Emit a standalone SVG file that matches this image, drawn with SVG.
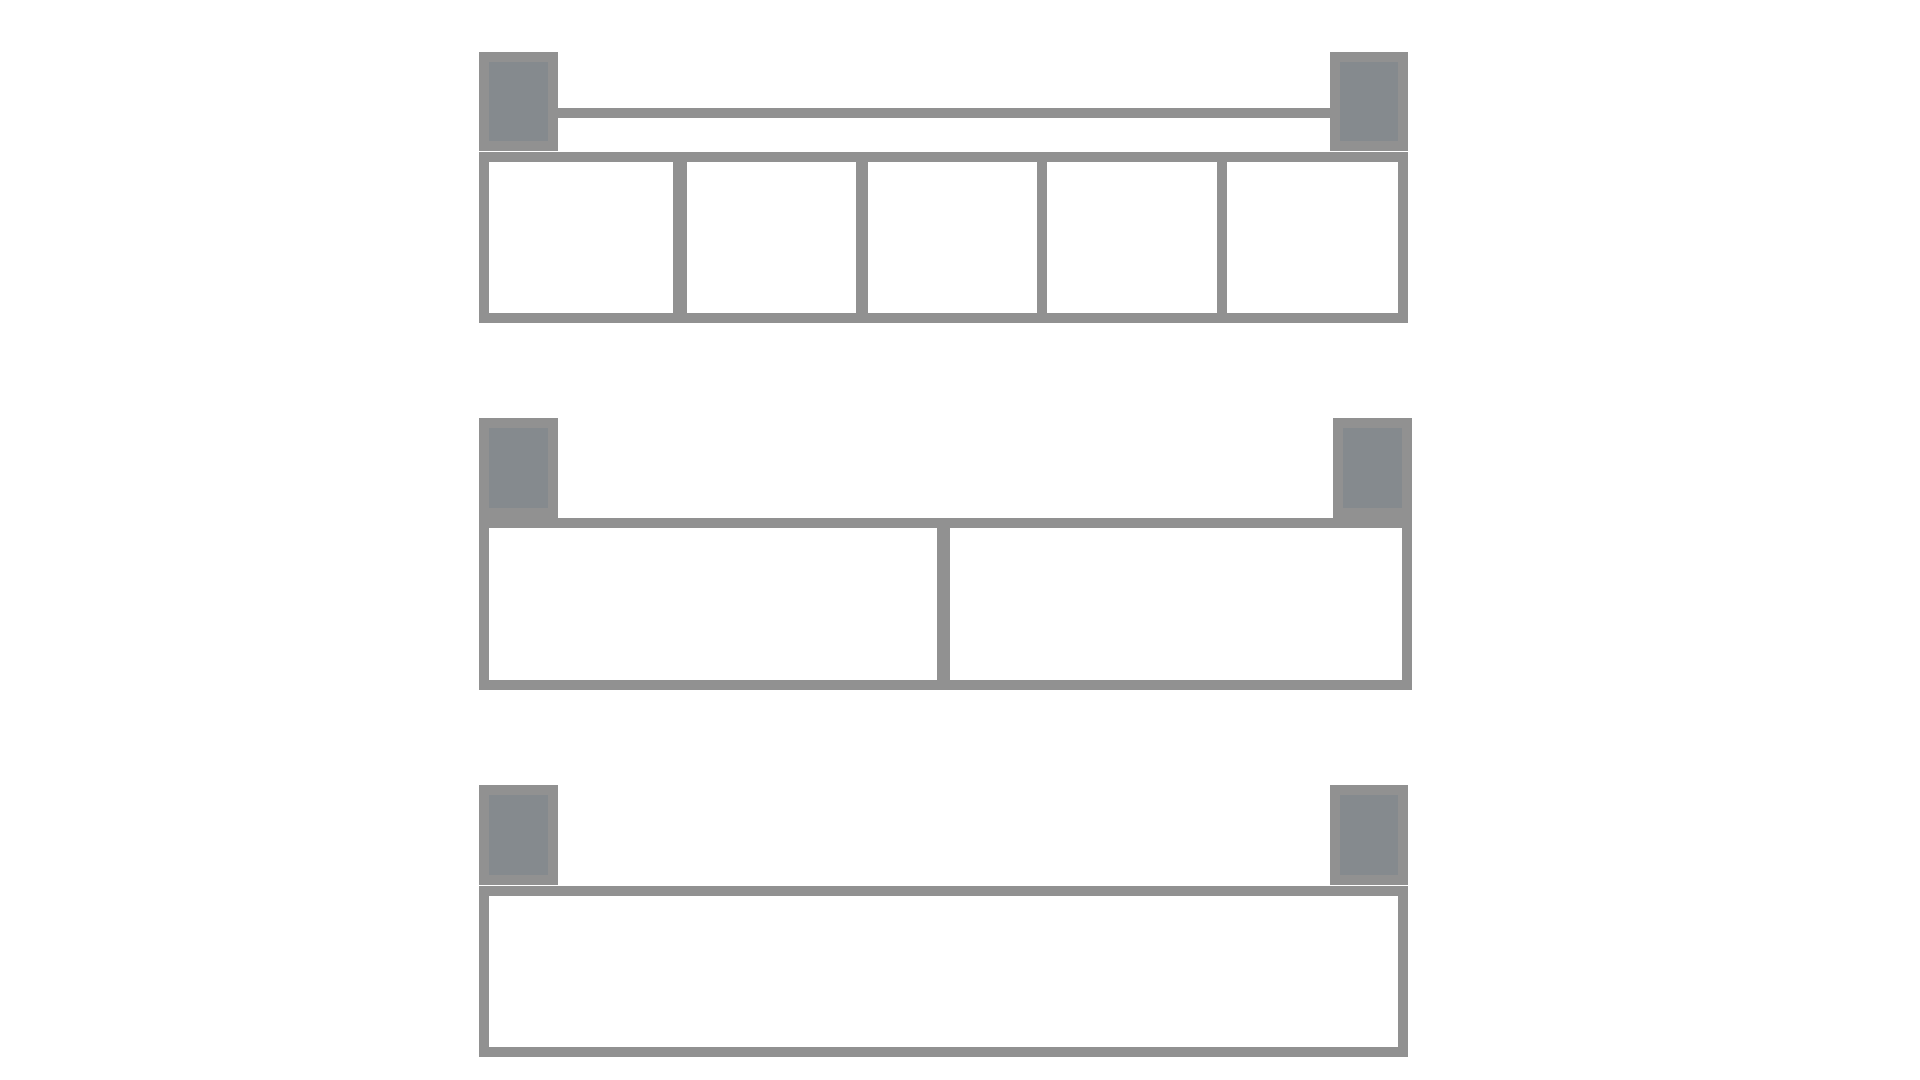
<svg xmlns="http://www.w3.org/2000/svg" width="1920" height="1080" viewBox="0 0 1920 1080">
<style>
.cell{fill:#ffffff;stroke:#919191;stroke-width:10}
.post{fill:#858a8e;stroke:#919191;stroke-width:10}
.bar{fill:#919191}
</style>
<rect width="1920" height="1080" fill="#ffffff"/>
<g id="row1">
  <rect class="bar" x="556" y="108" width="776" height="10"/>
  <rect class="post" x="484" y="57" width="69" height="89"/>
  <rect class="post" x="1335" y="57" width="68" height="89"/>
  <rect class="cell" x="484" y="157" width="194" height="161"/>
  <rect class="cell" x="682" y="157" width="179" height="161"/>
  <rect class="cell" x="863" y="157" width="179" height="161"/>
  <rect class="cell" x="1042" y="157" width="180" height="161"/>
  <rect class="cell" x="1222" y="157" width="181" height="161"/>
</g>
<g id="row2">
  <rect class="post" x="484" y="423" width="69" height="90"/>
  <rect class="post" x="1338" y="423" width="69" height="90"/>
  <rect class="cell" x="484" y="523" width="458" height="162"/>
  <rect class="cell" x="945" y="523" width="462" height="162"/>
</g>
<g id="row3">
  <rect class="post" x="484" y="790" width="69" height="90"/>
  <rect class="post" x="1335" y="790" width="68" height="90"/>
  <rect class="cell" x="484" y="891" width="919" height="161"/>
</g>
<g id="connectors"></g>
</svg>
